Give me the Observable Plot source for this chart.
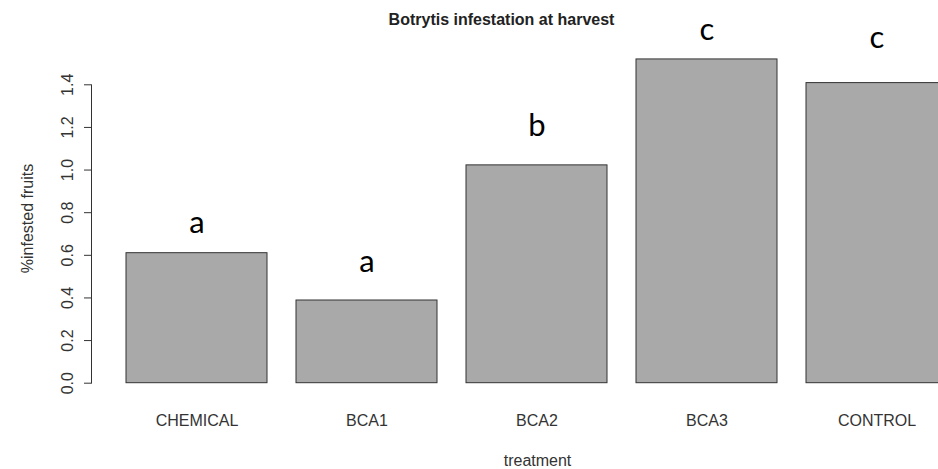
<!DOCTYPE html>
<html>
<head>
<meta charset="utf-8">
<script src="https://cdn.jsdelivr.net/npm/d3@7"></script>
<script src="https://cdn.jsdelivr.net/npm/@observablehq/plot@0.6"></script>
<style>
  html, body { margin: 0; padding: 0; background: #fff; overflow: hidden; }
  #chart svg { display: block; }
</style>
</head>
<body>
<div id="chart"></div>
<script>
const treatments = ["CHEMICAL", "BCA1", "BCA2", "BCA3", "CONTROL"];
const infested = [0.61, 0.388, 1.022, 1.519, 1.408];
const groupLetters = ["a", "a", "b", "c", "c"];
const letterHeights = [0.707, 0.524, 1.162, 1.608, 1.575];
const yTicks = [0, 0.2, 0.4, 0.6, 0.8, 1.0, 1.2, 1.4];
const titleText = "Botrytis infestation at harvest";
const xLabel = "treatment";
const yLabel = "%infested fruits";

const bars = treatments.map((t, i) => ({treatment: t, value: infested[i]}));
const letters = treatments.map((t, i) => ({treatment: t, letter: groupLetters[i], y: letterHeights[i]}));

const chart = Plot.plot({
  width: 938,
  height: 469,
  marginLeft: 91,
  marginRight: 0,
  marginTop: 84.3,
  marginBottom: 86.3,
  style: {fontFamily: "'Liberation Sans', Arial, sans-serif", fontSize: "16px", color: "#333", background: "#fff", overflow: "hidden"},
  x: {domain: treatments, range: [126, 948], paddingInner: 0.17, paddingOuter: 0},
  y: {domain: [0, 1.4]},
  marks: [
    Plot.barY(bars, {x: "treatment", y: "value", fill: "#a9a9a9", stroke: "#333", strokeWidth: 1}),
    Plot.frame({anchor: "left", stroke: "#333"}),
    Plot.axisY({ticks: yTicks, tickSize: 7, tickRotate: -90, tickPadding: 12, tickFormat: d => d.toFixed(1), fontSize: 16, label: null, stroke: "#333"}),
    Plot.axisX({tickSize: 0, tickPadding: 31, fontSize: 16, label: null}),
    Plot.text(letters, {x: "treatment", y: "y", text: "letter", lineAnchor: "bottom", fontSize: 31, fontFamily: "Lato, 'Open Sans', sans-serif", fill: "#000"}),
    Plot.text([titleText], {frameAnchor: "top-left", textAnchor: "middle", lineAnchor: "bottom", dx: 410, dy: -60.3, fontSize: 16, fontWeight: "bold", fill: "#222"}),
    Plot.text([xLabel], {frameAnchor: "bottom-left", textAnchor: "middle", lineAnchor: "bottom", dx: 446, dy: 83, fontSize: 16, fill: "#333"}),
    Plot.text([yLabel], {frameAnchor: "left", rotate: -90, textAnchor: "middle", lineAnchor: "middle", dx: -64, dy: -15.5, fontSize: 16, fill: "#333"})
  ]
});
document.getElementById("chart").appendChild(chart);
</script>
</body>
</html>
